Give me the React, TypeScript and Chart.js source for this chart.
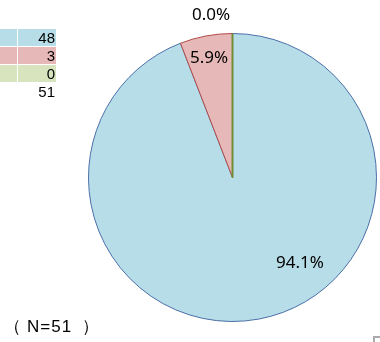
import React, { useEffect, useRef } from "react";
import { Chart, registerables } from "chart.js";

Chart.register(...registerables);

const categories = ["A", "B", "C"];
const counts = [48, 3, 0];
const total = 51;
const percentLabels = ["94.1%", "5.9%", "0.0%"];
const nLabelParts = ["（", "N=51", "）"];

const fillColors = ["#b7dee8", "#e6b9b8", "#d7e4bd"];
const edgeColors = ["#4a6fa8", "#b24b49", "#6f8f34"];
// label placement: [angle from top clockwise in degrees, radius as fraction of pie radius]
const labelPolar: [number, number][] = [
  [141.7, 0.756],
  [-11.1, 0.846],
  [-7.5, 1.14],
];

const labelPlugin = {
  id: "sliceLabels",
  afterDatasetsDraw(chart: any) {
    const ctx = chart.ctx;
    const meta = chart.getDatasetMeta(0);
    const arcs = meta.data;
    if (!arcs.length) return;
    const { x, y, outerRadius } = arcs[0].getProps(["x", "y", "outerRadius"], true);
    arcs.forEach((arc: any, i: number) => {
      const v = chart.data.datasets[0].data[i];
      if (v === 0) {
        const p = arc.getProps(["startAngle"], true);
        ctx.save();
        ctx.strokeStyle = edgeColors[i];
        ctx.lineWidth = 2;
        ctx.beginPath();
        ctx.moveTo(x, y);
        ctx.lineTo(x + Math.cos(p.startAngle) * outerRadius, y + Math.sin(p.startAngle) * outerRadius);
        ctx.stroke();
        ctx.restore();
      }
    });
    ctx.save();
    ctx.fillStyle = "#000";
    ctx.font = "17px 'Noto Sans', 'Open Sans', sans-serif";
    ctx.textAlign = "center";
    ctx.textBaseline = "middle";
    percentLabels.forEach((t, i) => {
      const [deg, rf] = labelPolar[i];
      const a = (deg * Math.PI) / 180;
      ctx.fillText(t, x + Math.sin(a) * outerRadius * rf, y - Math.cos(a) * outerRadius * rf);
    });
    ctx.restore();
  },
};

export default function App() {
  const ref = useRef<HTMLCanvasElement>(null);
  useEffect(() => {
    if (!ref.current) return;
    const chart = new Chart(ref.current, {
      type: "pie",
      data: {
        labels: categories,
        datasets: [
          {
            data: counts,
            backgroundColor: fillColors,
            borderColor: edgeColors,
            borderWidth: 1,
            hoverOffset: 0,
          },
        ],
      },
      options: {
        animation: false,
        responsive: false,
        events: [],
        layout: { padding: { left: 88, right: 3, top: 33, bottom: 20 } },
        plugins: { legend: { display: false }, tooltip: { enabled: false } },
      },
      plugins: [labelPlugin],
    });
    return () => chart.destroy();
  }, []);

  const nFont: React.CSSProperties = {
    display: "inline-block",
    fontFamily: "'Liberation Sans', Arial, sans-serif",
    fontSize: 17,
    lineHeight: "22px",
    textAlign: "center",
  };

  return (
    <div style={{ position: "fixed", left: 0, top: 0, width: 380, height: 342, background: "#fff", overflow: "hidden" }}>
      <canvas ref={ref} width={380} height={342} style={{ position: "absolute", left: 0, top: 0 }} />
      <div style={{ position: "absolute", left: 0, top: 29, width: 56, fontFamily: "'Liberation Sans', Arial, sans-serif", fontSize: 15, color: "#000" }}>
        {counts.map((c, i) => (
          <div key={i} style={{ display: "flex", height: 17, marginBottom: 1 }}>
            <div style={{ width: 17, background: fillColors[i], marginRight: 1 }} />
            <div style={{ flex: 1, background: fillColors[i], textAlign: "right", paddingRight: 1, lineHeight: "18px" }}>{c}</div>
          </div>
        ))}
        <div style={{ display: "flex", height: 17 }}>
          <div style={{ width: 18 }} />
          <div style={{ flex: 1, textAlign: "right", paddingRight: 1, lineHeight: "18px" }}>{total}</div>
        </div>
      </div>
      <div style={{ position: "absolute", left: 0, top: 316, color: "#000", whiteSpace: "nowrap" }}>
        <span style={{ ...nFont, width: 24, textAlign: "center" }}>{nLabelParts[0]}</span>
        <span style={{ ...nFont, letterSpacing: "1px", marginLeft: 3 }}>{nLabelParts[1]}</span>
        <span style={{ ...nFont, width: 22, textAlign: "left", marginLeft: 10 }}>{nLabelParts[2]}</span>
      </div>
      <div style={{ position: "absolute", left: 373, top: 336, width: 8, height: 8, borderLeft: "2px solid #aaa", borderTop: "2px solid #aaa" }} />
    </div>
  );
}
